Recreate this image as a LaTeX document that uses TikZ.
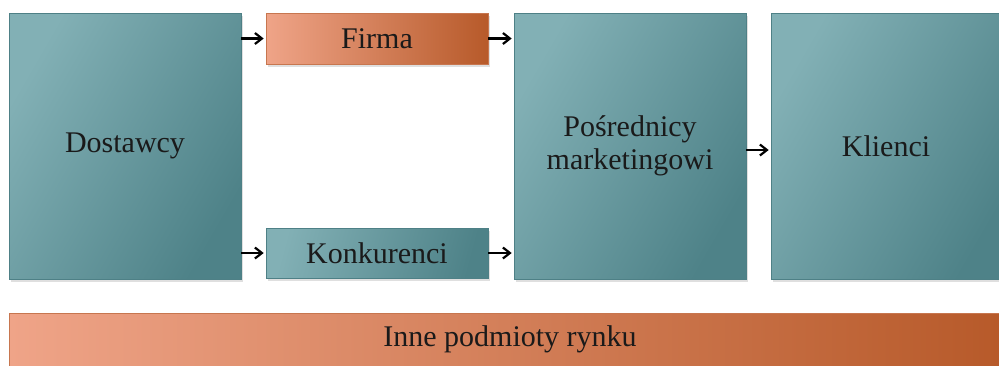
\documentclass[tikz,border=0pt]{standalone}
\usepackage{fontspec}
\setmainfont{Liberation Serif}
\usetikzlibrary{shadows,arrows.meta}
\definecolor{tealL}{HTML}{82B0B5}
\definecolor{tealD}{HTML}{4E8288}
\definecolor{tealE}{HTML}{4E8086}
\definecolor{oraL}{HTML}{EFA488}
\definecolor{oraD}{HTML}{B75A2A}
\definecolor{oraE}{HTML}{C7764F}
\definecolor{txt}{HTML}{1A1A1A}
\begin{document}
\begin{tikzpicture}[x=1pt,y=-1pt,
  box/.style={draw=tealE,line width=0.6pt,left color=tealL,right color=tealD,shading angle=60,
    drop shadow={shadow xshift=2pt,shadow yshift=-2.5pt,opacity=0.25},
    text=txt,font=\fontsize{30}{33}\selectfont,align=center,inner sep=0pt},
  obox/.style={box,draw=oraE,left color=oraL,right color=oraD,shading angle=90},
  lbl/.style={text=txt,font=\fontsize{30}{33}\selectfont,inner sep=0pt},
  arr/.style={-{Straight Barb[length=7pt,width=11pt,line width=2.2pt]},line width=2.4pt,black}]
\useasboundingbox (0,0) rectangle (999,365);
\node[box,minimum width=232pt,minimum height=266pt] (dost) at (125,146) {Dostawcy};
\node[obox,minimum width=222pt,minimum height=51pt] (firma) at (377,38.5) {Firma};
\node[box,minimum width=222pt,minimum height=50pt,shading angle=75] (konk) at (377,253) {Konkurenci};
\node[box,minimum width=232pt,minimum height=266pt] (posr) at (630,146) {Pośrednicy\\marketingowi};
\node[box,minimum width=240pt,minimum height=266pt] (kli) at (891,146) {};
\node[lbl] (klit) at (886,146) {Klienci};
\node[obox,minimum width=990pt,minimum height=56pt] (inne) at (504,341) {};
\node[lbl] (innet) at (510,339) {Inne podmioty rynku};
\draw[arr] (dost.east |- firma.west) -- ([xshift=-2pt]firma.west);
\draw[arr] (firma.east) -- ([xshift=-2pt]posr.west |- firma.east);
\draw[arr] (dost.east |- konk.west) -- ([xshift=-2pt]konk.west);
\draw[arr] (konk.east) -- ([xshift=-2pt]posr.west |- konk.east);
\coordinate (pk) at ([yshift=-4pt]posr.east);
\draw[arr] (pk) -- ([xshift=-2pt]kli.west |- pk);
\end{tikzpicture}
\end{document}
